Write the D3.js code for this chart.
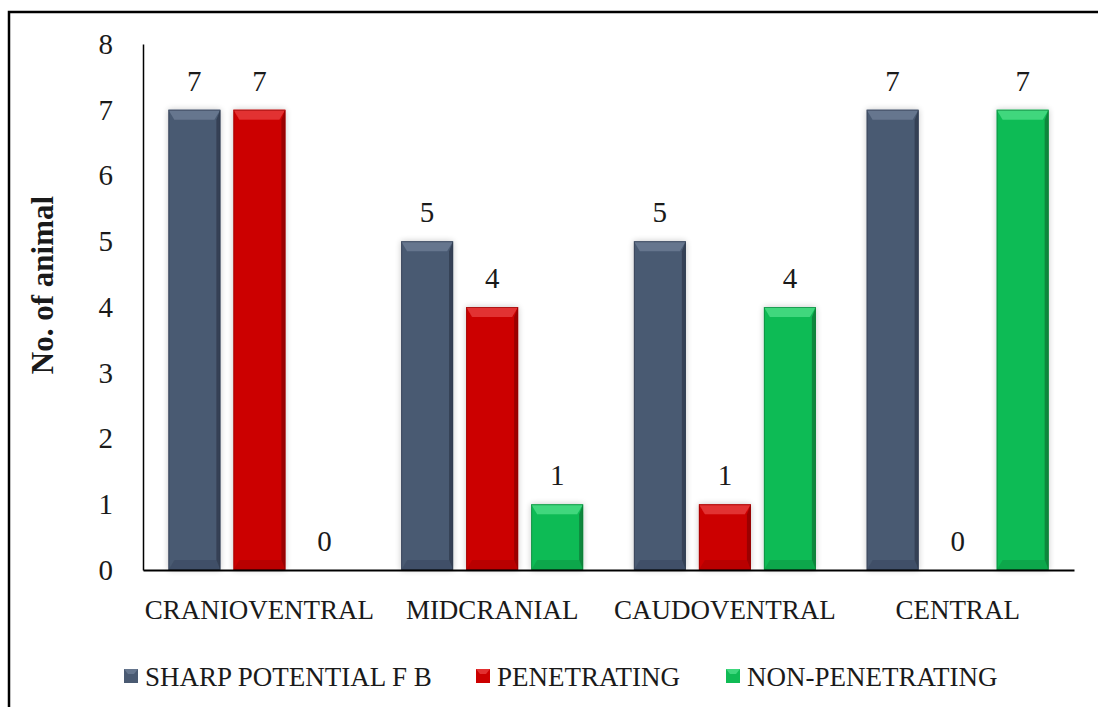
<!DOCTYPE html>
<html><head><meta charset="utf-8">
<script src="https://cdn.jsdelivr.net/npm/d3@7"></script>
<style>body{margin:0;background:#fff}svg{display:block}text{font-family:"Liberation Serif","Times New Roman",serif}</style>
</head><body>
<svg id="c" width="1098" height="707"></svg>
<script>
const categories = ["CRANIOVENTRAL","MIDCRANIAL","CAUDOVENTRAL","CENTRAL"];
const seriesNames = ["SHARP POTENTIAL F B","PENETRATING","NON-PENETRATING"];
const sharpValues = [7,5,5,7];
const penetratingValues = [7,4,1,0];
const nonPenetratingValues = [0,1,4,7];
const yTicks = [0,1,2,3,4,5,6,7,8];
const seriesValues = [sharpValues, penetratingValues, nonPenetratingValues];
const colors = ["#4a5a72","#cc0000","#10bb55"];
const lightColors = ["#66768e","#e23030","#3fd77d"];
const darkColors = ["#2f3b4e","#8e0000","#0a7a36"];
const textColor = "#1a1a1a";

const svg = d3.select("#c");
const defs = svg.append("defs");
const f = defs.append("filter").attr("id","sh").attr("x","-30%").attr("y","-10%").attr("width","160%").attr("height","120%");
f.append("feGaussianBlur").attr("in","SourceAlpha").attr("stdDeviation",3).attr("result","b");
f.append("feComponentTransfer").attr("in","b").attr("result","t").append("feFuncA").attr("type","linear").attr("slope",0.22);
const m = f.append("feMerge"); m.append("feMergeNode").attr("in","t"); m.append("feMergeNode").attr("in","SourceGraphic");

// outer border
svg.append("path").attr("d","M9,707 V12 H1098").attr("fill","none").attr("stroke","#000").attr("stroke-width",2.5);

const pLeft = 143, pRight = 1074, pTop = 44, pBottom = 570;
const y = d3.scaleLinear().domain([0,8]).range([pBottom, pTop]);
const x0 = d3.scaleBand().domain(categories).range([pLeft,pRight]).padding(0);
const x1 = d3.scaleBand().domain(d3.range(3)).range([0,x0.bandwidth()]).paddingInner(0.2).paddingOuter(0.39);

// y axis
const yAxis = d3.axisLeft(y).tickValues(yTicks).tickSize(0).tickPadding(30).tickFormat(d3.format("d"));
const gy = svg.append("g").attr("transform",`translate(${pLeft},0)`).call(yAxis);
gy.select(".domain").attr("stroke","#000").attr("stroke-width",1.5);
gy.selectAll("text").attr("font-size",29).attr("fill",textColor).attr("font-family","Liberation Serif");

// bars
const bw = x1.bandwidth();
categories.forEach((c,ci)=>{
  seriesValues.forEach((vals,si)=>{
    const v = vals[ci];
    const bx = x0(c)+x1(si);
    const by = y(v), bh = y(0)-y(v);
    if (v > 0) {
      const g = svg.append("g").attr("filter","url(#sh)");
      g.append("rect").attr("x",bx).attr("y",by).attr("width",bw).attr("height",bh).attr("fill",colors[si]);
      const bev = Math.min(10, bh/2);
      g.append("path").attr("d",`M${bx},${by} L${bx+bw},${by} L${bx+bw-6},${by+bev} L${bx+6},${by+bev} Z`).attr("fill",lightColors[si]);
      g.append("path").attr("d",`M${bx+bw},${by} L${bx+bw-4},${by+bev} L${bx+bw-4},${by+bh-bev} L${bx+bw},${by+bh} Z`).attr("fill",darkColors[si]).attr("opacity",0.8);
      g.append("path").attr("d",`M${bx},${by+bh} L${bx+6},${by+bh-bev} L${bx+bw-4},${by+bh-bev} L${bx+bw},${by+bh} Z`).attr("fill",darkColors[si]).attr("opacity",0.3);
      g.append("rect").attr("x",bx+0.5).attr("y",by+0.5).attr("width",bw-1).attr("height",bh-1).attr("fill","none").attr("stroke",darkColors[si]).attr("stroke-width",1).attr("opacity",0.6);
    }
    svg.append("text").attr("x",bx+bw/2).attr("y",y(v)-19).attr("text-anchor","middle")
      .attr("font-size",29).attr("fill",textColor).text(v);
  });
});

// x axis
const xAxis = d3.axisBottom(x0).tickSize(0);
const gx = svg.append("g").attr("transform",`translate(0,${pBottom})`).call(xAxis);
gx.select(".domain").attr("stroke","#000").attr("stroke-width",2);
gx.selectAll("text").attr("y",49).attr("dy",0).attr("font-size",27).attr("fill",textColor).attr("font-family","Liberation Serif");

// y title
svg.append("text").attr("transform",`translate(53,285) rotate(-90)`).attr("text-anchor","middle")
  .attr("font-size",31).attr("font-weight","bold").attr("fill",textColor).text("No. of animal");

// legend
const legX = [124, 476, 726];
seriesNames.forEach((n,i)=>{
  const g = svg.append("g").attr("transform",`translate(${legX[i]},669)`);
  g.append("rect").attr("x",0).attr("y",0).attr("width",14).attr("height",14).attr("fill",colors[i]);
  g.append("path").attr("d","M0,0 L14,0 L10,5 L4,5 Z").attr("fill",lightColors[i]);
  g.append("text").attr("x",21).attr("y",17).attr("font-size",27).attr("fill",textColor).text(n);
});
</script>
</body></html>
